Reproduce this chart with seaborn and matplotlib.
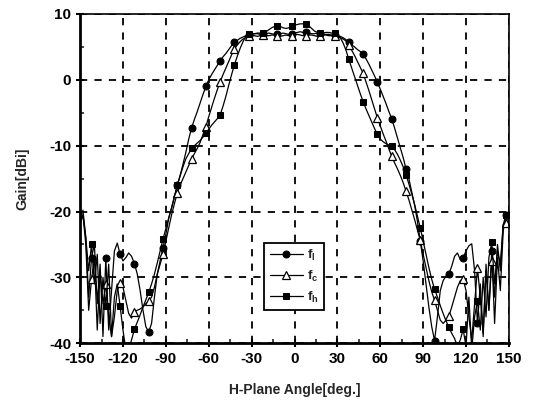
import matplotlib
matplotlib.use('Agg')
import matplotlib.pyplot as plt
from matplotlib.ticker import MultipleLocator
import seaborn as sns
import numpy as np

# H-plane angle, every 2 degrees from -150 to 150
angle = np.arange(-150, 151, 2)

# Gain [dBi] for the low frequency (circles)
gain_fl = [
    -21, -19.8, -24, -33, -27, -25, -34, -28, -39, -27,
    -38, -32, -26, -24.8, -26.5, -27.5, -27, -26.3, -26.8, -27.9,
    -29.5, -32, -35, -37.5, -38.3, -37, -33, -29.5, -27.5, -25.5,
    -23.5, -21, -19.5, -17.8, -16, -14.5, -12.8, -11, -9, -7.3,
    -6, -4.8, -3.5, -2.2, -1.0, 0.0, 0.8, 1.5, 2.2, 2.9,
    3.5, 4.0, 4.6, 5.2, 5.7, 6.0, 6.3, 6.5, 6.7, 6.8,
    6.9, 7.0, 7.0, 6.9, 6.9, 7.0, 7.1, 7.0, 6.9, 7.0,
    7.0, 7.1, 7.0, 6.9, 7.0, 7.1, 7.2, 7.3, 7.2, 7.2,
    7.1, 7.0, 7.0, 7.1, 7.0, 6.9, 6.9, 6.9, 6.8, 6.8,
    6.7, 6.6, 6.4, 6.1, 5.7, 5.3, 5.0, 4.6, 4.3, 3.9,
    3.2, 2.4, 1.5, 0.6, -0.4, -1.4, -2.5, -3.6, -4.8, -5.9,
    -7.3, -8.8, -10.3, -11.8, -13.5, -15, -17, -19, -21.5, -24.5,
    -27.5, -31, -34.5, -37.5, -39.6, -36, -32, -30.5, -29.8, -29.5,
    -28.3, -26.8, -26.3, -27.3, -27.0, -26, -25.2, -24.9, -29, -37,
    -31, -39, -28, -35, -26, -37, -27, -32, -23, -20.5,
    -21.5,
]

# Gain [dBi] for the centre frequency (open triangles)
gain_fc = [
    -21.5, -20.5, -25, -35, -30.3, -27, -38, -29, -34, -31,
    -36, -39, -36, -32, -30.8, -31.5, -33.5, -35.5, -36.2, -35.2,
    -35, -34.8, -34.5, -34, -33.6, -33, -31.5, -29.5, -28, -26.5,
    -24.5, -22.5, -20.5, -18.8, -17.2, -16.0, -15.0, -14.0, -13.0, -12.0,
    -11.2, -10.4, -9.5, -8.3, -7.1, -5.6, -4.2, -2.8, -1.5, -0.3,
    0.8, 1.8, 2.8, 3.8, 4.7, 5.3, 5.8, 6.2, 6.4, 6.6,
    6.7, 6.7, 6.6, 6.7, 6.8, 6.7, 6.7, 6.8, 6.8, 6.7,
    6.6, 6.7, 6.8, 6.7, 6.6, 6.8, 6.9, 6.8, 6.7, 6.7,
    6.8, 6.8, 6.7, 6.6, 6.7, 6.8, 6.8, 6.7, 6.7, 6.6,
    6.5, 6.4, 6.2, 5.9, 5.3, 4.5, 3.7, 2.8, 1.9, 1.0,
    -0.3, -1.6, -3.0, -4.4, -5.8, -7.0, -8.2, -9.3, -10.5, -11.6,
    -12.6, -13.5, -14.5, -15.6, -16.9, -18.2, -19.7, -21.2, -22.8, -24.4,
    -26.5, -28.5, -30.5, -32.2, -33.5, -35, -36.5, -37, -36.5, -35.9,
    -34.5, -33, -31.5, -30.5, -30.3, -32, -36, -39.5, -34, -28.6,
    -33, -38.5, -29, -35, -27.5, -33, -25, -29, -22, -21.8,
    -22.5,
]

# Gain [dBi] for the high frequency (filled squares)
gain_fh = [
    -22, -20.5, -24, -29, -25, -31, -26.5, -37, -30, -34.3,
    -28, -39, -33, -31, -34.4, -38, -41, -41, -39.5, -37.9,
    -36.8, -35.7, -34.5, -33.4, -32.3, -31, -29.5, -27.8, -26, -24.2,
    -22.6, -21, -19.4, -17.7, -16.0, -14.6, -13.2, -12.0, -11.2, -10.4,
    -10.0, -9.6, -9.2, -8.7, -8.1, -7.5, -6.9, -6.4, -5.9, -5.3,
    -4.0, -2.5, -0.8, 0.8, 2.3, 3.6, 4.8, 5.8, 6.6, 7.0,
    7.0, 7.0, 7.1, 7.1, 7.1, 7.3, 7.6, 7.9, 8.1, 8.2,
    8.1, 7.9, 7.8, 7.9, 8.1, 8.3, 8.4, 8.5, 8.5, 8.5,
    8.2, 7.8, 7.4, 7.2, 7.1, 7.1, 7.2, 7.2, 7.1, 7.1,
    6.9, 6.4, 5.6, 4.5, 3.1, 1.8, 0.5, -0.8, -2.1, -3.3,
    -4.4, -5.4, -6.4, -7.4, -8.3, -9.0, -9.4, -9.7, -9.9, -10.1,
    -10.6, -11.3, -12.2, -13.2, -14.4, -15.8, -17.3, -18.9, -20.7, -22.5,
    -24.5, -26.5, -28.5, -30.3, -31.8, -33.0, -34.3, -35.5, -36.6, -37.6,
    -38.5, -39.3, -40.5, -39.5, -37.9, -40.5, -33, -41, -36, -33.6,
    -38, -30, -36, -27, -24.7, -31, -26, -28, -22, -20.5,
    -21.5,
]

x_ticks = [-150, -120, -90, -60, -30, 0, 30, 60, 90, 120, 150]
y_ticks = [-40, -30, -20, -10, 0, 10]

sns.set_style('ticks')
plt.rcParams['font.family'] = ['Liberation Sans', 'DejaVu Sans']
plt.rcParams['font.weight'] = 'bold'
plt.rcParams['mathtext.default'] = 'regular'
plt.rcParams['axes.unicode_minus'] = False

fig = plt.figure(figsize=(5.34, 4.11), dpi=100)
ax = fig.add_axes([0.150, 0.165, 0.803, 0.801])

# marker every 10 degrees, first one at -142
mark = (4, 5)
sns.lineplot(x=angle, y=gain_fl, ax=ax, color='black', linewidth=0.9,
             marker='o', markersize=5, markerfacecolor='black',
             markeredgecolor='black', markevery=mark, label='f$_l$')
sns.lineplot(x=angle, y=gain_fc, ax=ax, color='black', linewidth=0.9,
             marker='^', markersize=6, markerfacecolor='white',
             markeredgecolor='black', markeredgewidth=0.9,
             markevery=mark, label='f$_c$')
sns.lineplot(x=angle, y=gain_fh, ax=ax, color='black', linewidth=0.9,
             marker='s', markersize=4.5, markerfacecolor='black',
             markeredgecolor='black', markevery=mark, label='f$_h$')

ax.set_xlim(-150, 150)
ax.set_ylim(-40, 10)
ax.set_xticks(x_ticks)
ax.set_yticks(y_ticks)
ax.xaxis.set_minor_locator(MultipleLocator(15))
ax.yaxis.set_minor_locator(MultipleLocator(5))
ax.tick_params(which='major', direction='inout', length=6, width=1.5,
               labelsize=11, colors='black')
ax.tick_params(which='minor', direction='in', length=3, width=1.2)
for lbl in ax.get_xticklabels() + ax.get_yticklabels():
    lbl.set_fontweight('bold')

ax.grid(True, which='major', color='black', linestyle=(0, (4, 4)), linewidth=1.3)

for side in ['left', 'bottom']:
    ax.spines[side].set_linewidth(2)
for side in ['top', 'right']:
    ax.spines[side].set_linewidth(1.2)
for side in ax.spines:
    ax.spines[side].set_color('black')
    ax.spines[side].set_visible(True)

ax.set_xlabel('H-Plane Angle[deg.]', fontsize=10, fontweight='bold', labelpad=12)
ax.set_ylabel('Gain[dBi]', fontsize=10, fontweight='bold', labelpad=14)

leg = ax.legend(loc='lower left', bbox_to_anchor=(0.43, 0.10), borderaxespad=0,
                frameon=True, fancybox=False, edgecolor='black', framealpha=1,
                handlelength=2.5, fontsize=9.5, labelspacing=0.45,
                borderpad=0.4, handletextpad=0.3)
leg.get_frame().set_linewidth(1.3)

plt.savefig('out.png', dpi=100)
plt.close()
